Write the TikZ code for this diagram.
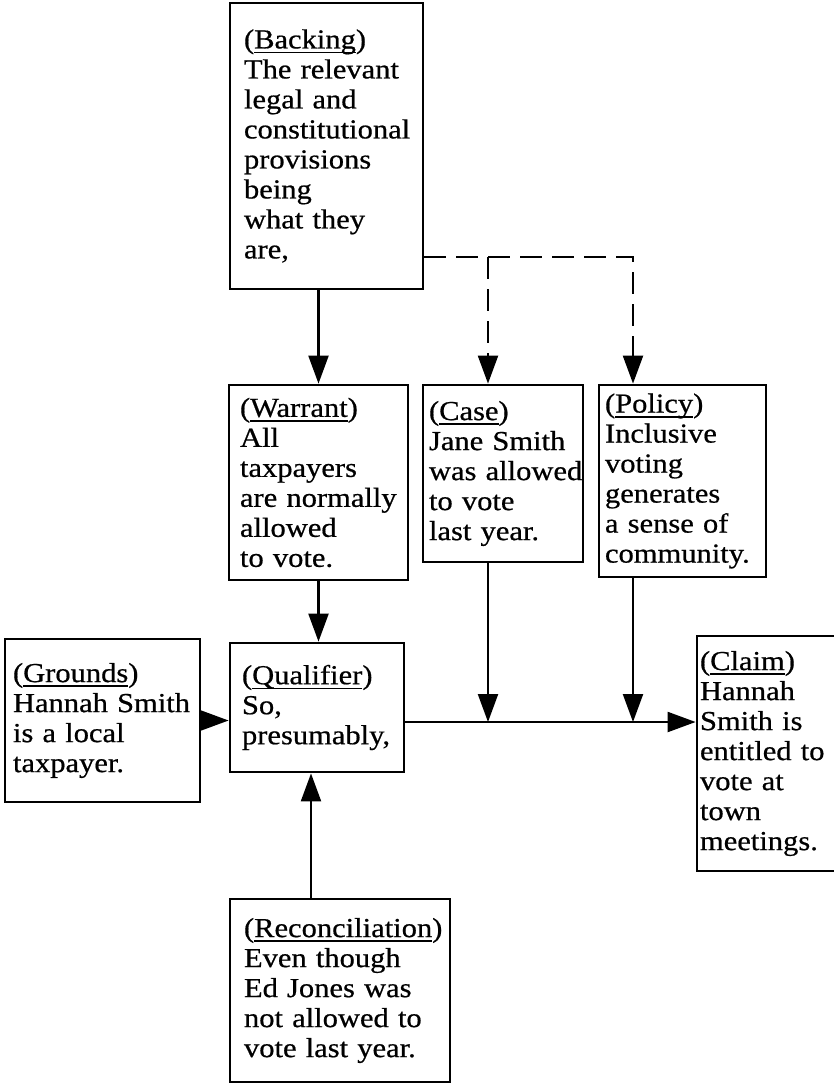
\documentclass[tikz,border=0pt]{standalone}
\usepackage{fontspec}
\setmainfont{Liberation Serif}[FakeStretch=1.11,FakeBold=0.6]
\usetikzlibrary{arrows.meta}

% whole words only, never hyphenated
\hyphenpenalty=10000\relax
\exhyphenpenalty=10000\relax

% label word underlined, parentheses left plain
\newcommand{\boxtitle}[1]{(\setbox0\hbox{#1}\rlap{\rule[-5pt]{\wd0}{1.6pt}}\box0)}

\begin{document}
\begin{tikzpicture}[x=1pt,y=-1pt,
  box/.style={draw, rectangle, line width=2.8pt, align=left, inner ysep=0pt,
    font=\fontsize{27.5}{30}\selectfont},
  link/.style={line width=2.2pt, -{Triangle[length=28pt,width=20pt]}},
  dashlink/.style={link, dash pattern=on 22pt off 10pt}]

\path[use as bounding box] (0,0) rectangle (834,1085);
\clip (0,0) rectangle (834,1085);

% boxes
\node[box, minimum width=193pt, minimum height=286pt, text width=165pt, inner xsep=14pt]
  (backing) at (326.5,146) {\boxtitle{Backing}\\The~relevant\\legal~and\\constitutional\\provisions\\being\\what~they\\are,};
\node[box, minimum width=179pt, minimum height=195pt, text width=157pt, inner xsep=11pt]
  (warrant) at (318.5,482.5) {\boxtitle{Warrant}\\All\\taxpayers\\are~normally\\allowed\\to~vote.};
\node[box, minimum width=160pt, minimum height=177pt, text width=148pt, inner xsep=6pt]
  (case) at (503,473.5) {\boxtitle{Case}\\Jane~Smith\\was~allowed\\to~vote\\last~year.};
\node[box, minimum width=167pt, minimum height=192pt, text width=155pt, inner xsep=6pt]
  (policy) at (682.5,481) {\boxtitle{Policy}\\Inclusive\\voting\\generates\\a~sense~of\\community.};
\node[box, minimum width=195pt, minimum height=163pt, text width=179pt, inner xsep=8pt]
  (grounds) at (102.5,720.5) {\boxtitle{Grounds}\\Hannah~Smith\\is~a~local\\taxpayer.};
\node[box, minimum width=174pt, minimum height=129pt, text width=150pt, inner xsep=12pt]
  (qualifier) at (317,707.5) {\boxtitle{Qualifier}\\So,\\presumably,};
\node[box, minimum width=153pt, minimum height=235pt, text width=147pt, inner xsep=3pt]
  (claim) at (773.5,753.5) {\boxtitle{Claim}\\Hannah\\Smith~is\\entitled~to\\vote~at\\town\\meetings.};
\node[box, minimum width=220pt, minimum height=183pt, text width=192pt, inner xsep=14pt]
  (recon) at (340,990.5) {\boxtitle{Reconciliation}\\Even~though\\Ed~Jones~was\\not~allowed~to\\vote~last~year.};

% reference lines for the connectors
\coordinate (mainy) at (0,722);
\coordinate (dashy) at (0,257);
\coordinate (casex) at (488,0);
\coordinate (policyx) at (633,0);
\coordinate (reconx) at (311,0);

% solid connectors
\draw[link] (warrant.north |- backing.south) -- (warrant.north);
\draw[link] (warrant.south) -- (warrant.south |- qualifier.north);
\draw[link] (grounds.east) -- (grounds.east -| qualifier.west);
\draw[link] (qualifier.east |- mainy) -- (claim.west |- mainy);
\draw[link] (case.south -| casex) -- (casex |- mainy);
\draw[link] (policy.south -| policyx) -- (policyx |- mainy);
\draw[link] (recon.north -| reconx) -- (qualifier.south -| reconx);

% dashed connectors from the backing
\draw[dashlink] (backing.east |- dashy) -| (policy.north -| policyx);
\draw[dashlink] (casex |- dashy) -- (case.north -| casex);
\end{tikzpicture}
\end{document}
